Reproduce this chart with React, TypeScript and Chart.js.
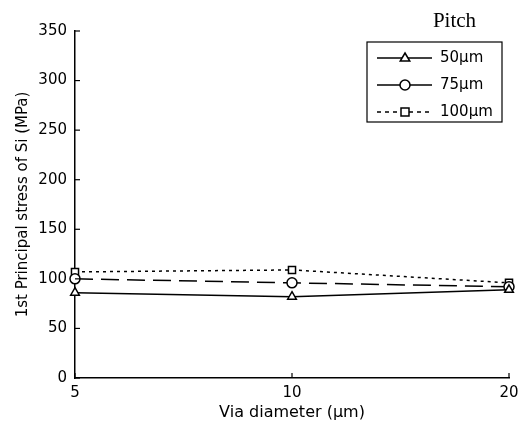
import React, { useEffect, useRef } from "react";
import { Chart, registerables } from "chart.js";

Chart.register(...registerables);

const categories = ["5", "10", "20"];
const series50 = [86, 82, 89];
const series75 = [100, 96, 92];
const series100 = [107, 109, 96];
const seriesNames = ["50µm", "75µm", "100µm"];
const yTicks = [0, 50, 100, 150, 200, 250, 300, 350];

const SANS = "'DejaVu Sans', sans-serif";
const MARKER_R = 5;

function drawMarker(ctx: CanvasRenderingContext2D, style: string, x: number, y: number, r: number) {
  ctx.beginPath();
  if (style === "triangle") {
    ctx.moveTo(x, y - r);
    ctx.lineTo(x + r * 0.95, y + r * 0.6);
    ctx.lineTo(x - r * 0.95, y + r * 0.6);
    ctx.closePath();
  } else if (style === "circle") {
    ctx.arc(x, y, r, 0, Math.PI * 2);
  } else {
    ctx.rect(x - r * 0.8, y - r * 0.8, r * 1.6, r * 1.6);
  }
  ctx.fill();
  ctx.stroke();
}

const decorPlugin = {
  id: "decor",
  afterDraw(chart: any) {
    const ctx = chart.ctx;
    const area = chart.chartArea;
    const xs = chart.scales.x;
    const ys = chart.scales.y;
    ctx.save();
    ctx.strokeStyle = "#000";
    ctx.lineWidth = 1.2;
    // inward ticks
    ys.ticks.forEach((t: any, i: number) => {
      const y = ys.getPixelForTick(i);
      ctx.beginPath();
      ctx.moveTo(area.left, y);
      ctx.lineTo(area.left + 5, y);
      ctx.stroke();
    });
    xs.ticks.forEach((t: any, i: number) => {
      const x = xs.getPixelForTick(i);
      ctx.beginPath();
      ctx.moveTo(x, area.bottom);
      ctx.lineTo(x, area.bottom - 5);
      ctx.stroke();
    });

    // legend
    const boxR = area.right - 7;
    const boxL = boxR - 135;
    const boxT = area.top + 11;
    const boxB = boxT + 80;
    ctx.lineWidth = 1.2;
    ctx.strokeStyle = "#000";
    ctx.fillStyle = "#fff";
    ctx.fillRect(boxL, boxT, boxR - boxL, boxB - boxT);
    ctx.strokeRect(boxL, boxT, boxR - boxL, boxB - boxT);

    ctx.fillStyle = "#000";
    ctx.font = "21px 'Liberation Serif', serif";
    ctx.textAlign = "center";
    ctx.textBaseline = "middle";
    ctx.fillText("Pitch", (boxL + boxR) / 2 + 20, area.top - 10);

    const legendDash = [[], [], [4, 4]];
    const styles = ["triangle", "circle", "rect"];
    chart.data.datasets.forEach((ds: any, i: number) => {
      const y = boxT + 16 + i * 27;
      ctx.save();
      ctx.lineWidth = 1.5;
      ctx.strokeStyle = "#000";
      ctx.setLineDash(legendDash[i]);
      ctx.beginPath();
      ctx.moveTo(boxL + 10, y);
      ctx.lineTo(boxL + 65, y);
      ctx.stroke();
      ctx.setLineDash([]);
      ctx.fillStyle = "#fff";
      drawMarker(ctx, styles[i], boxL + 38, y, MARKER_R);
      ctx.restore();
      ctx.fillStyle = "#000";
      ctx.font = "15px " + SANS;
      ctx.textAlign = "left";
      ctx.textBaseline = "middle";
      ctx.fillText(ds.label, boxL + 73, y);
    });
    ctx.restore();
  },
};

export default function App() {
  const ref = useRef<HTMLCanvasElement | null>(null);
  useEffect(() => {
    if (!ref.current) return;
    const common = {
      borderColor: "#000",
      borderWidth: 1.5,
      pointBorderColor: "#000",
      pointBackgroundColor: "#fff",
      pointBorderWidth: 1.5,
      pointRadius: MARKER_R,
      tension: 0,
      clip: false as any,
    };
    const chart = new Chart(ref.current, {
      type: "line",
      data: {
        labels: categories,
        datasets: [
          { ...common, label: seriesNames[0], data: series50, pointStyle: "triangle" },
          { ...common, label: seriesNames[1], data: series75, pointStyle: "circle", borderDash: [18, 8] },
          { ...common, label: seriesNames[2], data: series100, pointStyle: "rect", borderDash: [3, 4] },
        ],
      },
      options: {
        animation: false,
        responsive: false,
        devicePixelRatio: 1,
        layout: { padding: { left: 0, right: 18, top: 31, bottom: 0 } },
        plugins: { legend: { display: false }, tooltip: { enabled: false } },
        scales: {
          x: {
            type: "category",
            offset: false,
            border: { display: true, color: "#000", width: 1.5 },
            grid: { drawOnChartArea: false, drawTicks: false },
            ticks: { color: "#000", font: { family: SANS, size: 15 }, padding: 6, maxRotation: 0 },
            title: {
              display: true,
              text: "Via diameter (µm)",
              color: "#000",
              font: { family: SANS, size: 16 },
              padding: { top: 0, bottom: 6 },
            },
            afterFit: (s: any) => {
              s.height = 50;
            },
          },
          y: {
            min: 0,
            max: 350,
            afterBuildTicks: (s: any) => {
              s.ticks = yTicks.map((v) => ({ value: v }));
            },
            border: { display: true, color: "#000", width: 1.5 },
            grid: { drawOnChartArea: false, drawTicks: false },
            ticks: { color: "#000", font: { family: SANS, size: 15 }, padding: 8 },
            title: {
              display: true,
              text: "1st Principal stress of Si (MPa)",
              color: "#000",
              font: { family: SANS, size: 15 },
              padding: { top: 14, bottom: 0 },
            },
            afterFit: (s: any) => {
              s.width = 75;
            },
          },
        },
      },
      plugins: [decorPlugin],
    });
    return () => chart.destroy();
  }, []);
  return (
    <div style={{ position: "fixed", left: 0, top: 0, width: 527, height: 428, background: "#fff" }}>
      <canvas ref={ref} width={527} height={428} style={{ display: "block" }} />
    </div>
  );
}
